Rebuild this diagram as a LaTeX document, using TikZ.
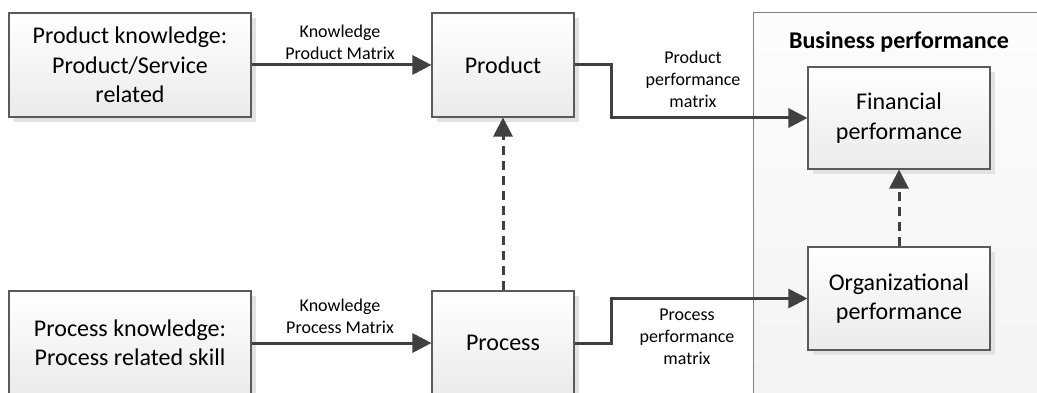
\documentclass[tikz,border=0pt]{standalone}
\usepackage{fontspec}
\setmainfont{Carlito}
\usetikzlibrary{arrows.meta,shadows}
\definecolor{linec}{HTML}{404040}
\definecolor{boxborder}{HTML}{5A5A5A}
\definecolor{shadowc}{HTML}{E2E2E2}
\tikzset{
  box/.style={draw=boxborder, line width=1.1pt, top color=white, bottom color=black!8,
    minimum width=#1, inner sep=0pt, align=center,
    font=\fontsize{24}{29.5}\selectfont,
    drop shadow={shadow xshift=5pt, shadow yshift=-5pt, fill=shadowc, opacity=1}},
  lbl/.style={inner sep=0pt, align=center, font=\fontsize{18}{22}\selectfont},
  conn/.style={draw=linec, line width=3pt, -{Triangle[length=19pt,width=19pt]}},
  dconn/.style={conn, dash pattern=on 9pt off 6pt},
}
\begin{document}
\begin{tikzpicture}[x=1pt,y=-1pt]
\clip (0,0) rectangle (1037,393);
\fill[white] (0,0) rectangle (1037,393);
% business performance container
\node[draw=black!50, line width=1pt, top color=black!1, bottom color=black!5,
  minimum width=300pt, minimum height=400pt, inner sep=0pt] (bp) at (903,213) {};
\node[inner sep=0pt, font=\fontsize{24}{29}\selectfont\bfseries] (bpt) at (899,42) {Business performance};
% boxes
\node[box=242pt, minimum height=104pt] (pk) at (130,65) {Product knowledge:\\Product/Service\\related};
\node[box=142pt, minimum height=104pt] (prod) at (503,65) {Product};
\node[box=182pt, minimum height=102pt] (fin) at (899,118) {Financial\\performance};
\node[box=182pt, minimum height=103pt] (org) at (899,298.5) {Organizational\\performance};
\node[box=242pt, minimum height=104pt] (prk) at (130,343) {Process knowledge:\\Process related skill};
\node[box=142pt, minimum height=104pt] (proc) at (503,343) {Process};
% labels
\node[lbl] (l1) at (340,42) {Knowledge\\Product Matrix};
\node[lbl] (l2) at (340,316) {Knowledge\\Process Matrix};
\node[lbl] (l3) at (693,79) {Product\\performance\\matrix};
\node[lbl] (l4) at (687,337) {Process\\performance\\matrix};
% connectors
\draw[conn] (pk) -- (prod);
\draw[conn] (prk) -- (proc);
\draw[conn] (prod.east) -- ++(37,0) |- (fin.west);
\draw[conn] (proc.east) -- ++(37,0) |- (org.west);
\draw[dconn] (proc.north) -- (prod.south);
\draw[dconn] (org.north) -- (fin.south);
\end{tikzpicture}
\end{document}
